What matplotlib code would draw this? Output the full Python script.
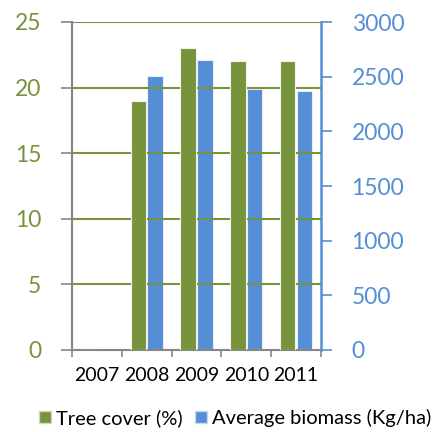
import matplotlib
matplotlib.use("Agg")
import matplotlib.pyplot as plt
import numpy as np
from matplotlib.patches import Patch

years = ["2007", "2008", "2009", "2010", "2011"]
tree_cover = [0, 19, 23, 22, 22]
biomass = [0, 2510, 2655, 2385, 2365]

green = "#77933C"
blue = "#558ED5"
gray = "#868686"

plt.rcParams['font.family'] = ['Lato', 'DejaVu Sans']

fig = plt.figure(figsize=(4.48, 4.32), dpi=100)
ax = fig.add_axes([72/448, 1-350/432, (321-72)/448, (350-22)/432])
ax2 = ax.twinx()

x = np.arange(len(years))
w = 0.31
ax.bar(x - 0.17, tree_cover, w, color=green, edgecolor="#f2f2f2", linewidth=0.8, zorder=3)
ax2.bar(x + 0.17, biomass, w, color=blue, edgecolor="#e8eef8", linewidth=0.8, zorder=3)

ax.set_xlim(-0.5, 4.5)
ax.set_ylim(0, 25)
ax2.set_ylim(0, 3000)
ax.set_yticks([0, 5, 10, 15, 20, 25])
ax2.set_yticks([0, 500, 1000, 1500, 2000, 2500, 3000])

for yv in [5, 10, 15, 20, 25]:
    ax.axhline(yv, color=green, linewidth=1.5, zorder=1)

ax.set_xticks(x)
ax.set_xticklabels(years, fontsize=14, color="black")
ax.tick_params(axis='x', which='major', length=0, pad=12)
ax.set_xticks(np.arange(-0.5, 5, 1), minor=True)
ax.tick_params(axis='x', which='minor', length=5, width=1.2, color=gray, direction='out')

ax.tick_params(axis='y', length=8, width=1.2, color=gray, labelcolor=green, labelsize=16.5, pad=14)
ax2.tick_params(axis='y', length=8, width=1.2, color=blue, labelcolor=blue, labelsize=16.5, pad=14)

for a in (ax, ax2):
    a.spines['top'].set_visible(False)
ax.spines['right'].set_visible(False)
ax2.spines['left'].set_visible(False)
ax2.spines['bottom'].set_visible(False)
ax.spines['left'].set_color(gray)
ax.spines['left'].set_linewidth(1.5)
ax.spines['bottom'].set_color(gray)
ax.spines['bottom'].set_linewidth(1.5)
ax2.spines['right'].set_color(blue)
ax2.spines['right'].set_linewidth(1.8)

ax.set_zorder(ax2.get_zorder() + 1)
ax.patch.set_visible(False)

handles = [Patch(facecolor=green, edgecolor="#d0d8c0"), Patch(facecolor=blue, edgecolor="#c8d8f0")]
fig.legend(handles, ["Tree cover (%)", "Average biomass (Kg/ha)"], loc='center',
           bbox_to_anchor=(0.525, 1-418/432), ncol=2, frameon=False, fontsize=14.5,
           handlelength=0.6, handleheight=0.6, handletextpad=0.25, columnspacing=0.6)

fig.savefig("out.png", dpi=100)
